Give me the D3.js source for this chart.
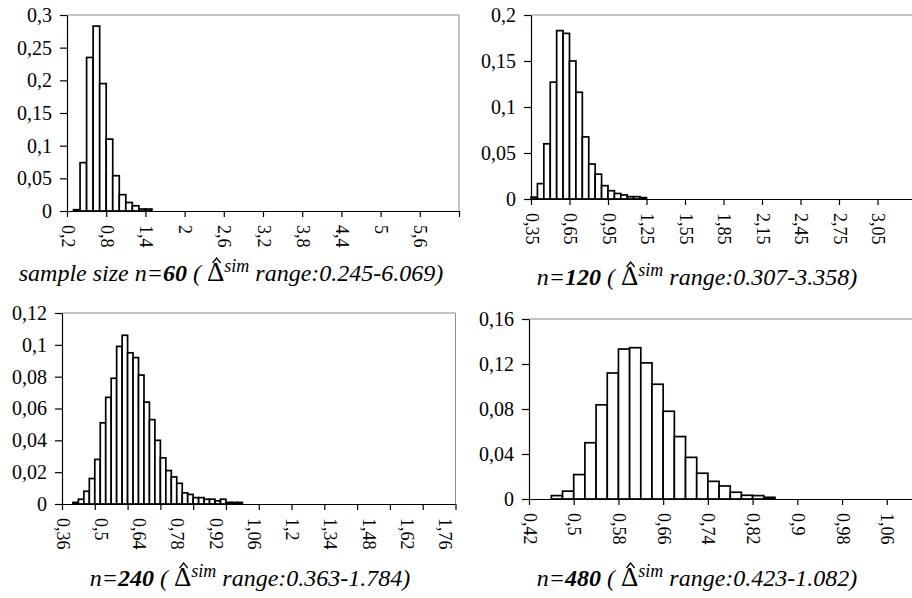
<!DOCTYPE html>
<html><head><meta charset="utf-8">
<script src="https://cdn.jsdelivr.net/npm/d3@7"></script>
<style>
body{margin:0;background:#fff}
svg{display:block}
</style>
</head><body>
<script>
// ---------- DATA ----------
// Panel 1: n=60
const p1BinStart = 0.2, p1BinWidth = 0.1, p1BinCount = 60;
const p1Values = [0, 0.002, 0.074, 0.235, 0.283, 0.195, 0.110, 0.054, 0.025, 0.013, 0.008, 0.003, 0.003];
const p1YTicks = [0, 0.05, 0.1, 0.15, 0.2, 0.25, 0.3];
const p1XTicks = [0.2, 0.8, 1.4, 2, 2.6, 3.2, 3.8, 4.4, 5, 5.6, 6.2];
const p1XLabels = [0.2, 0.8, 1.4, 2, 2.6, 3.2, 3.8, 4.4, 5, 5.6];
const p1Caption = {pre: "sample size n=", n: "60", range: "0.245-6.069"};

// Panel 2: n=120
const p2BinStart = 0.35, p2BinWidth = 0.05, p2BinCount = 60;
const p2Values = [0.002, 0.0167, 0.060, 0.127, 0.183, 0.180, 0.150, 0.116, 0.0675, 0.038, 0.027, 0.0145, 0.009, 0.006, 0.0044, 0.0025, 0.0025, 0.0015];
const p2YTicks = [0, 0.05, 0.1, 0.15, 0.2];
const p2XTicks = [0.35, 0.65, 0.95, 1.25, 1.55, 1.85, 2.15, 2.45, 2.75, 3.05, 3.35];
const p2XLabels = [0.35, 0.65, 0.95, 1.25, 1.55, 1.85, 2.15, 2.45, 2.75, 3.05];
const p2Caption = {pre: "n=", n: "120", range: "0.307-3.358"};

// Panel 3: n=240
const p3BinStart = 0.36, p3BinWidth = 0.02, p3BinCount = 72;
const p3Values = [0, 0, 0.001, 0.003, 0.008, 0.016, 0.028, 0.051, 0.067, 0.079, 0.099, 0.106, 0.095, 0.092, 0.081, 0.064, 0.053, 0.040, 0.029, 0.021, 0.017, 0.013, 0.007, 0.006, 0.004, 0.004, 0.003, 0.003, 0.002, 0.003, 0.001, 0.001, 0.001];
const p3YTicks = [0, 0.02, 0.04, 0.06, 0.08, 0.1, 0.12];
const p3XTicks = [0.36, 0.48, 0.60, 0.72, 0.84, 0.96, 1.08, 1.20, 1.32, 1.44, 1.56, 1.68, 1.80];
const p3XLabels = [0.36, 0.5, 0.64, 0.78, 0.92, 1.06, 1.2, 1.34, 1.48, 1.62, 1.76];
const p3Caption = {pre: "n=", n: "240", range: "0.363-1.784"};

// Panel 4: n=480
const p4BinStart = 0.42, p4BinWidth = 0.02, p4BinCount = 36;
const p4Values = [0, 0, 0.003, 0.007, 0.0217, 0.050, 0.0837, 0.112, 0.1333, 0.1345, 0.121, 0.102, 0.078, 0.0555, 0.037, 0.0229, 0.0157, 0.0116, 0.006, 0.0033, 0.003, 0.0015];
const p4YTicks = [0, 0.04, 0.08, 0.12, 0.16];
const p4XTicks = [0.42, 0.5, 0.58, 0.66, 0.74, 0.82, 0.9, 0.98, 1.06, 1.14];
const p4XLabels = [0.42, 0.5, 0.58, 0.66, 0.74, 0.82, 0.9, 0.98, 1.06];
const p4Caption = {pre: "n=", n: "480", range: "0.423-1.082"};

// ---------- LAYOUT ----------
const FONT = 'Liberation Serif';
const panels = [
  {start:p1BinStart, w:p1BinWidth, count:p1BinCount, values:p1Values, yTicks:p1YTicks, xTicks:p1XTicks, xLabels:p1XLabels, cap:p1Caption,
   left:67, right:459, top:15, bottom:211, capX:231, capY:281},
  {start:p2BinStart, w:p2BinWidth, count:p2BinCount, values:p2Values, yTicks:p2YTicks, xTicks:p2XTicks, xLabels:p2XLabels, cap:p2Caption,
   left:531, right:916, top:15, bottom:199, capX:697, capY:285},
  {start:p3BinStart, w:p3BinWidth, count:p3BinCount, values:p3Values, yTicks:p3YTicks, xTicks:p3XTicks, xLabels:p3XLabels, cap:p3Caption,
   left:62, right:455.5, top:313, bottom:504, capX:250, capY:586},
  {start:p4BinStart, w:p4BinWidth, count:p4BinCount, values:p4Values, yTicks:p4YTicks, xTicks:p4XTicks, xLabels:p4XLabels, cap:p4Caption,
   left:529, right:931.5, top:319, bottom:499, capX:697, capY:586}
];

const fmt = v => String(+v.toFixed(4)).replace('.', ',');

const svg = d3.select('body').append('svg').attr('width', 912).attr('height', 598)
  .attr('font-family', FONT);

panels.forEach(p => {
  const x = d3.scaleLinear().domain([p.start, p.start + p.count * p.w]).range([p.left, p.right]);
  const y = d3.scaleLinear().domain([0, d3.max(p.yTicks)]).range([p.bottom, p.top]);
  const g = svg.append('g').attr('font-family', FONT);

  // plot-area border (top and right, grey)
  g.append('path')
    .attr('d', `M${p.left},${p.top}H${p.right}V${p.bottom}`)
    .attr('fill', 'none').attr('stroke', '#8c8c8c').attr('stroke-width', 1);

  // bars
  const bars = p.values.map((v, i) => ({i, v})).filter(d => d.v > 0);
  g.selectAll('rect.bar').data(bars).join('rect')
    .attr('class', 'bar')
    .attr('x', d => x(p.start + d.i * p.w))
    .attr('width', d => x(p.start + (d.i + 1) * p.w) - x(p.start + d.i * p.w))
    .attr('y', d => y(d.v))
    .attr('height', d => y(0) - y(d.v))
    .attr('fill', '#fff').attr('stroke', '#000').attr('stroke-width', 1.7);

  // y axis
  const ya = g.append('g').attr('transform', `translate(${p.left},0)`)
    .call(d3.axisLeft(y).tickValues(p.yTicks).tickSize(7).tickSizeOuter(0).tickPadding(8).tickFormat(fmt));
  ya.attr('font-family', FONT).attr('font-size', 20);
  ya.selectAll('path,line').attr('stroke', '#000').attr('stroke-width', 1.2);
  ya.selectAll('text').attr('font-family', FONT).attr('font-size', 20).attr('fill', '#000');

  // x axis ticks
  const xa = g.append('g').attr('transform', `translate(0,${p.bottom})`)
    .call(d3.axisBottom(x).tickValues(p.xTicks).tickSize(6).tickSizeOuter(0).tickFormat(''));
  xa.selectAll('path,line').attr('stroke', '#000').attr('stroke-width', 1.2);
  xa.select('path.domain').attr('d', `M${p.left},0.5H${Math.min(p.right, 912)}`);

  // rotated x labels
  g.selectAll('text.xl').data(p.xLabels).join('text')
    .attr('class', 'xl')
    .attr('transform', d => `translate(${x(d)},${p.bottom + 14}) rotate(90)`)
    .attr('dy', '0.3em')
    .attr('font-family', FONT)
    .attr('font-size', 18)
    .attr('fill', '#000')
    .text(fmt);

  // caption
  const t = g.append('text').attr('x', p.capX).attr('y', p.capY)
    .attr('text-anchor', 'middle')
    .attr('font-family', FONT).attr('font-size', 24).attr('font-style', 'italic').attr('fill', '#000');
  t.append('tspan').text(p.cap.pre);
  t.append('tspan').attr('font-weight', 'bold').text(p.cap.n);
  t.append('tspan').text(' ( ');
  t.append('tspan').attr('font-style', 'normal').attr('font-size', 27).text('\u0394');
  t.append('tspan').attr('font-size', 18).attr('dy', -9).text('sim');
  t.append('tspan').attr('dy', 9).text(' range:' + p.cap.range + ')');
  const di = (p.cap.pre + p.cap.n + ' ( ').length;
  const ext = t.node().getExtentOfChar(di);
  const cx = ext.x + ext.width / 2 + 1, ty = ext.y + ext.height * 0.2;
  g.append('path')
    .attr('d', `M${cx - 4},${ty} L${cx},${ty - 5} L${cx + 4},${ty}`)
    .attr('fill', 'none').attr('stroke', '#000').attr('stroke-width', 1.3);
});
</script>
</body></html>
